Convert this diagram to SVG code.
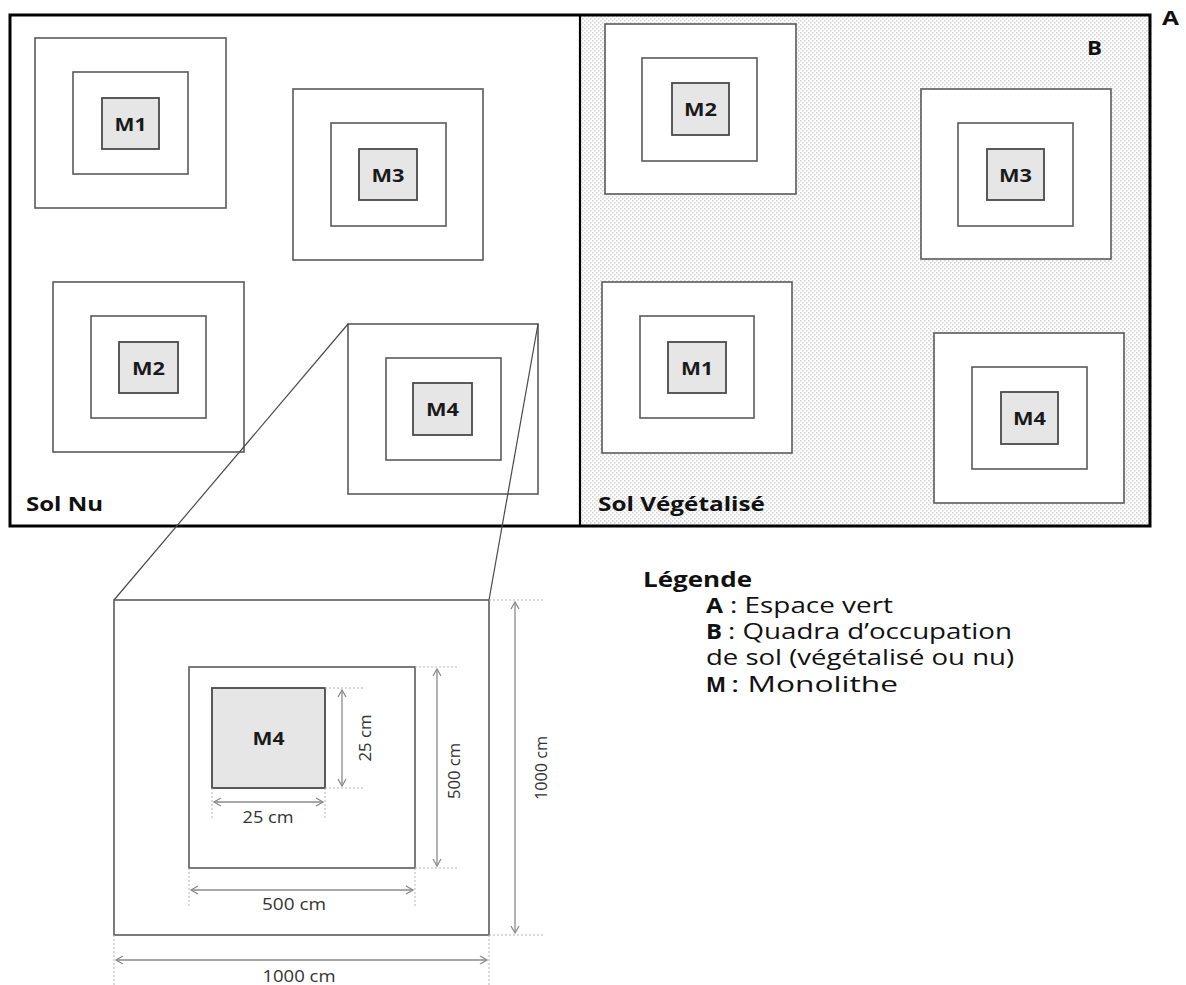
<svg xmlns="http://www.w3.org/2000/svg" width="1186" height="985" viewBox="0 0 1186 985">
<defs>
<pattern id="dots" x="0" y="0" width="4" height="4" patternUnits="userSpaceOnUse">
<rect width="4" height="4" fill="#ffffff"/>
<rect x="0" y="0" width="1.6" height="1.6" fill="#d6d6d6"/>
<rect x="2" y="2" width="1.6" height="1.6" fill="#d6d6d6"/>
</pattern>
<marker id="arr" viewBox="-10 -6 12 12" refX="0" refY="0" markerWidth="12" markerHeight="12" markerUnits="userSpaceOnUse" orient="auto-start-reverse" overflow="visible">
<path d="M-7,-4 L0,0 L-7,4" fill="none" stroke="#8a8a8a" stroke-width="1.3"/>
</marker>
<style>
.q{fill:#ffffff;stroke:#5a5a5a;stroke-width:1.6}
.m{fill:#e6e6e6;stroke:#4a4a4a;stroke-width:1.8}
.ml{font-family:"Open Sans","Liberation Sans",sans-serif;font-weight:bold;font-size:18px;fill:#1a1a1a;text-anchor:middle}
.lbl{font-family:"Open Sans","Liberation Sans",sans-serif;font-weight:bold;font-size:19px;fill:#111}
.leg{font-family:"Open Sans","Liberation Sans",sans-serif;font-size:21px;fill:#111}
.legb{font-family:"Open Sans","Liberation Sans",sans-serif;font-size:21px;font-weight:bold;fill:#111}
.dim{font-family:"Open Sans","Liberation Sans",sans-serif;font-size:16px;fill:#333;text-anchor:middle}
.dl{stroke:#8a8a8a;stroke-width:1.3;fill:none;marker-start:url(#arr);marker-end:url(#arr)}
.ext{stroke:#b5b5b5;stroke-width:1;stroke-dasharray:2 2;fill:none}
.con{stroke:#4a4a4a;stroke-width:1.2;fill:none}
</style>
</defs>
<rect width="1186" height="985" fill="#ffffff"/>

<g id="frame">
<rect x="580" y="15" width="570" height="511" fill="url(#dots)"/>
<rect x="10" y="15" width="1140" height="511" fill="none" stroke="#000" stroke-width="3"/>
<line x1="580" y1="15" x2="580" y2="526" stroke="#000" stroke-width="2.2"/>
<text class="lbl" x="26" y="511" textLength="77" lengthAdjust="spacingAndGlyphs">Sol Nu</text>
<text class="lbl" x="598" y="511" textLength="167" lengthAdjust="spacingAndGlyphs">Sol Végétalisé</text>
<text class="lbl" x="1087" y="55" font-size="21" textLength="15" lengthAdjust="spacingAndGlyphs">B</text>
<text class="lbl" x="1162" y="25" font-size="21" textLength="17" lengthAdjust="spacingAndGlyphs">A</text>
</g>

<g id="nu-m1">
<rect class="q" x="35" y="38" width="191" height="170"/>
<rect class="q" x="73" y="72" width="115" height="102"/>
<rect class="m" x="102" y="98" width="57" height="51"/>
<text class="ml" x="130.5" y="131" textLength="32" lengthAdjust="spacingAndGlyphs">M1</text>
</g>
<g id="nu-m3">
<rect class="q" x="293" y="89" width="190" height="171"/>
<rect class="q" x="331" y="123" width="115" height="103"/>
<rect class="m" x="359" y="149" width="58" height="51"/>
<text class="ml" x="388" y="182" textLength="33" lengthAdjust="spacingAndGlyphs">M3</text>
</g>
<g id="nu-m2">
<rect class="q" x="53" y="282" width="191" height="170"/>
<rect class="q" x="91" y="316" width="115" height="102"/>
<rect class="m" x="119" y="342" width="59" height="51"/>
<text class="ml" x="148.5" y="375" textLength="33" lengthAdjust="spacingAndGlyphs">M2</text>
</g>
<g id="nu-m4">
<rect class="q" x="348" y="324" width="190" height="170"/>
<rect class="q" x="386" y="358" width="115" height="102"/>
<rect class="m" x="413" y="383" width="59" height="52"/>
<text class="ml" x="442.5" y="416" textLength="33" lengthAdjust="spacingAndGlyphs">M4</text>
</g>

<g id="veg-m2">
<rect class="q" x="605" y="24" width="191" height="170"/>
<rect class="q" x="642" y="58" width="115" height="103"/>
<rect class="m" x="672" y="83" width="57" height="52"/>
<text class="ml" x="700.5" y="116" textLength="33" lengthAdjust="spacingAndGlyphs">M2</text>
</g>
<g id="veg-m3">
<rect class="q" x="921" y="89" width="190" height="170"/>
<rect class="q" x="958" y="123" width="115" height="103"/>
<rect class="m" x="987" y="149" width="57" height="51"/>
<text class="ml" x="1015.5" y="182" textLength="33" lengthAdjust="spacingAndGlyphs">M3</text>
</g>
<g id="veg-m1">
<rect class="q" x="602" y="282" width="190" height="171"/>
<rect class="q" x="640" y="316" width="114" height="102"/>
<rect class="m" x="668" y="342" width="58" height="51"/>
<text class="ml" x="697" y="375" textLength="32" lengthAdjust="spacingAndGlyphs">M1</text>
</g>
<g id="veg-m4">
<rect class="q" x="934" y="333" width="190" height="170"/>
<rect class="q" x="972" y="367" width="115" height="102"/>
<rect class="m" x="1001" y="392" width="57" height="52"/>
<text class="ml" x="1029.5" y="425" textLength="33" lengthAdjust="spacingAndGlyphs">M4</text>
</g>

<g id="connectors">
<line class="con" x1="348" y1="324" x2="114" y2="600"/>
<line class="con" x1="538" y1="324" x2="489" y2="600"/>
</g>

<g id="detail">
<rect class="q" x="114" y="600" width="375" height="335"/>
<rect class="q" x="189" y="667" width="226" height="201"/>
<rect class="m" x="212" y="688" width="113" height="100"/>
<text class="ml" x="268.5" y="745" textLength="32" lengthAdjust="spacingAndGlyphs">M4</text>
</g>

<g id="dimensions">
<path class="ext" d="M325,688 H363 M325,788 H363 M212,788 V820 M325,788 V820 M415,667 H458 M415,868 H458 M189,868 V908 M415,868 V908 M489,600 H545 M489,935 H545 M114,935 V985 M489,935 V985"/>
<line class="dl" x1="342" y1="690" x2="342" y2="786"/>
<line class="dl" x1="214" y1="802" x2="323" y2="802"/>
<line class="dl" x1="437" y1="669" x2="437" y2="866"/>
<line class="dl" x1="191" y1="890" x2="413" y2="890"/>
<line class="dl" x1="515" y1="602" x2="515" y2="933"/>
<line class="dl" x1="116" y1="960" x2="487" y2="960"/>
<text class="dim" x="268" y="823" textLength="51" lengthAdjust="spacingAndGlyphs">25 cm</text>
<text class="dim" x="294" y="910" textLength="64" lengthAdjust="spacingAndGlyphs">500 cm</text>
<text class="dim" x="299" y="982" textLength="73" lengthAdjust="spacingAndGlyphs">1000 cm</text>
<text class="dim" transform="translate(371,738) rotate(-90)" textLength="47" lengthAdjust="spacingAndGlyphs">25 cm</text>
<text class="dim" transform="translate(460,771) rotate(-90)" textLength="56" lengthAdjust="spacingAndGlyphs">500 cm</text>
<text class="dim" transform="translate(547,768) rotate(-90)" textLength="64" lengthAdjust="spacingAndGlyphs">1000 cm</text>
</g>

<g id="legend">
<text class="legb" x="643" y="587" textLength="109" lengthAdjust="spacingAndGlyphs">Légende</text>
<text class="legb" x="706" y="613" textLength="17" lengthAdjust="spacingAndGlyphs">A</text>
<text class="leg" x="730" y="613" textLength="163" lengthAdjust="spacingAndGlyphs">: Espace vert</text>
<text class="legb" x="706" y="639" textLength="16" lengthAdjust="spacingAndGlyphs">B</text>
<text class="leg" x="728" y="639" textLength="284" lengthAdjust="spacingAndGlyphs">: Quadra d’occupation</text>
<text class="leg" x="706" y="665" textLength="308" lengthAdjust="spacingAndGlyphs">de sol (végétalisé ou nu)</text>
<text class="legb" x="706" y="692" textLength="20" lengthAdjust="spacingAndGlyphs">M</text>
<text class="leg" x="731" y="692" textLength="167" lengthAdjust="spacingAndGlyphs">:  Monolithe</text>
</g>
</svg>
